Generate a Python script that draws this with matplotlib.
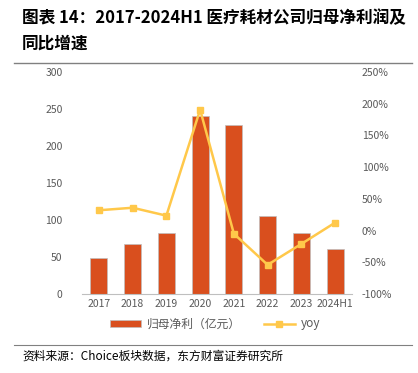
import matplotlib.pyplot as plt
import numpy as np

plt.rcParams['font.family'] = ['Noto Sans CJK SC', 'DejaVu Sans']

years = ['2017', '2018', '2019', '2020', '2021', '2022', '2023', '2024H1']
profit = [48, 67, 82, 240, 228, 105, 83, 61]
yoy = [32, 36, 23.5, 190.5, -5, -54, -21, 12.5]

bar_c = '#D94F1E'
line_c = '#FFC84A'
txt_c = '#595959'

fig = plt.figure(figsize=(4.18, 3.73), dpi=100)
ax = fig.add_axes([82/418, 1 - 294/373, 270/418, 222/373])
x = np.arange(len(years))
ax.bar(x, profit, width=0.5, color=bar_c, edgecolor='#BFBFBF', linewidth=0.5,
       label='归母净利（亿元）')
ax.set_ylim(0, 300)
ax.set_xlim(-0.5, len(years) - 0.5)
ax.set_yticks(range(0, 301, 50))
ax.set_xticks(x)
ax.set_xticklabels(years)
for s in ['top', 'right', 'left']:
    ax.spines[s].set_visible(False)
ax.spines['bottom'].set_color('#BFBFBF')
ax.tick_params(axis='both', length=0, labelsize=7.5, colors=txt_c)
ax.tick_params(axis='y', pad=14)

ax2 = ax.twinx()
ax2.plot(x, yoy, color=line_c, lw=1.8, marker='s', ms=5, label='yoy')
ax2.set_ylim(-100, 250)
ax2.set_yticks(range(-100, 251, 50))
ax2.set_yticklabels([f'{v}%' for v in range(-100, 251, 50)])
for s in ax2.spines.values():
    s.set_visible(False)
ax2.tick_params(axis='y', length=0, labelsize=7.5, colors=txt_c, pad=7)

h1, l1 = ax.get_legend_handles_labels()
h2, l2 = ax2.get_legend_handles_labels()
fig.legend(h1 + h2, l1 + l2, loc='center', bbox_to_anchor=(215/418, 1 - 324/373),
           ncol=2, frameon=False, fontsize=8.5, labelcolor=txt_c,
           handlelength=2.6, handleheight=0.5, handletextpad=0.5, columnspacing=2.0)

fig.text(22/418, 1 - 18/373, '图表 14：2017-2024H1 医疗耗材公司归母净利润及', fontsize=12,
         fontweight='bold', va='center', ha='left')
fig.text(22/418, 1 - 44/373, '同比增速', fontsize=12, fontweight='bold', va='center', ha='left')
fig.add_artist(plt.Line2D([14/418, 412/418], [1 - 63/373, 1 - 63/373], color='#808080', lw=1))
fig.add_artist(plt.Line2D([14/418, 412/418], [1 - 345/373, 1 - 345/373], color='#808080', lw=0.8))
fig.text(22/418, 1 - 356/373, '资料来源：Choice板块数据，东方财富证券研究所', fontsize=8.5,
         va='center', ha='left')

fig.savefig('out.png', dpi=100)
